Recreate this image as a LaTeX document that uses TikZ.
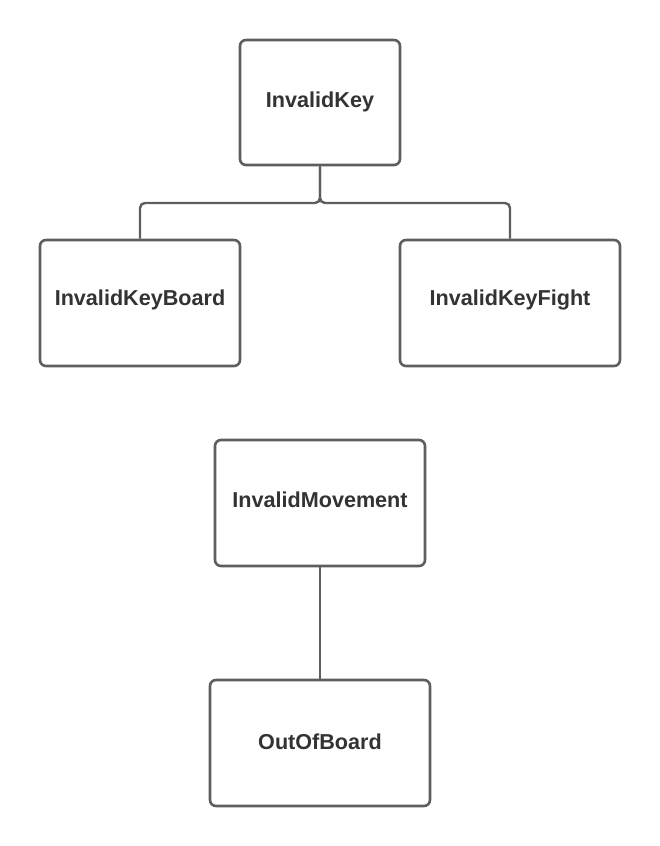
\documentclass[tikz,border=0pt]{standalone}
\usepackage{fontspec}
\setmainfont{Liberation Sans}
\begin{document}
\begin{tikzpicture}[x=1pt,y=-1pt,
  box/.style={draw=linegray, line width=2.6pt, rounded corners=6pt, fill=white, inner sep=0pt,
    font=\fontsize{21.6}{26}\selectfont\bfseries, text=textgray},
  link/.style={draw=linegray, line width=2.4pt}]
\definecolor{linegray}{HTML}{5E5E5E}
\definecolor{textgray}{HTML}{333333}
\useasboundingbox (0,0) rectangle (660,846);
\node[box, minimum width=160pt, minimum height=125pt] (ik) at (320,102.5) {};
\node[box, minimum width=200pt, minimum height=126pt] (ikb) at (140,303) {};
\node[box, minimum width=220pt, minimum height=126pt] (ikf) at (510,303) {};
\node[box, minimum width=210pt, minimum height=126pt] (im) at (320,503) {};
\node[box, minimum width=220pt, minimum height=126pt] (oob) at (320,743) {};
\node[font=\fontsize{21.6}{26}\selectfont\bfseries, text=textgray] (t1) at (320,102) {InvalidKey};
\node[font=\fontsize{21.6}{26}\selectfont\bfseries, text=textgray] (t2) at (140,300) {InvalidKeyBoard};
\node[font=\fontsize{21.6}{26}\selectfont\bfseries, text=textgray] (t3) at (510,300) {InvalidKeyFight};
\node[font=\fontsize{21.6}{26}\selectfont\bfseries, text=textgray] (t4) at (320,500) {InvalidMovement};
\node[font=\fontsize{21.6}{26}\selectfont\bfseries, text=textgray] (t5) at (320,742) {OutOfBoard};
\coordinate (split) at (320,203);
\draw[link, rounded corners=5pt] (ik.south) -- (split) -| (ikb.north);
\draw[link, rounded corners=5pt] (ik.south) -- (split) -| (ikf.north);
\draw[link] (im.south) -- (oob.north);
\end{tikzpicture}
\end{document}
